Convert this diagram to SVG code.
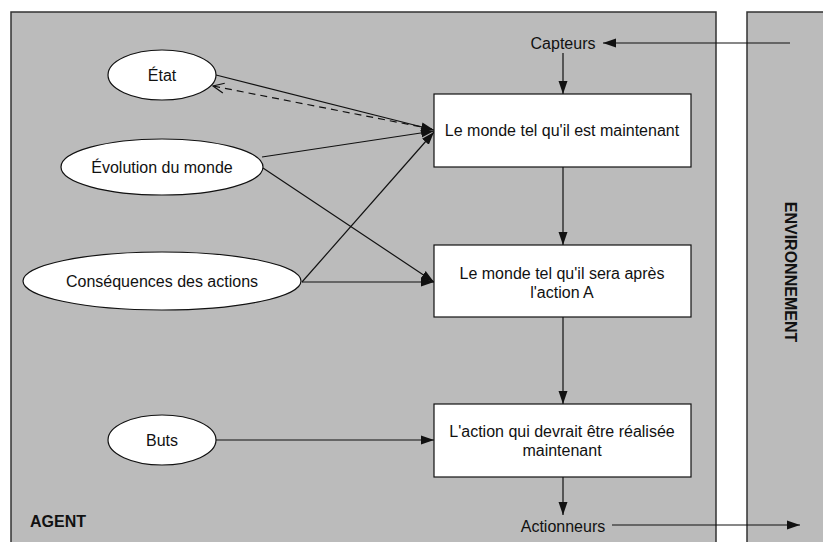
<svg xmlns="http://www.w3.org/2000/svg" width="823" height="542" viewBox="0 0 823 542">
<style>
.panel{fill:#bbbbbb;stroke:#333;stroke-width:1.5}
.node{fill:#fff;stroke:#111;stroke-width:1.2}
.t{font-family:"Liberation Sans",Arial,Helvetica,sans-serif;font-size:16px;fill:#111;text-anchor:middle}
.b{font-family:"Liberation Sans",Arial,Helvetica,sans-serif;font-size:16px;font-weight:bold;fill:#111}
.c{fill:none;stroke:#111;stroke-width:1.2}
.d{fill:none;stroke:#111;stroke-width:1.2;stroke-dasharray:7,5}
</style>
<defs>
<marker id="ah" markerUnits="userSpaceOnUse" markerWidth="14" markerHeight="10" refX="13" refY="5" orient="auto">
<path d="M0,0.5 L13,5 L0,9.5 Z" fill="#111"/>
</marker>
<marker id="oh" markerUnits="userSpaceOnUse" markerWidth="14" markerHeight="12" refX="12" refY="6" orient="auto">
<path d="M1,1 L12,6 L1,11" fill="none" stroke="#111" stroke-width="1.2"/>
</marker>
</defs>
<rect width="823" height="542" fill="#fff"/>
<g id="agent">
<rect class="panel" x="11" y="12" width="705" height="540"/>
<text class="b" x="30" y="527">AGENT</text>
</g>
<g id="environnement">
<rect class="panel" x="747" y="12" width="90" height="540"/>
<text class="b" x="785" y="272" text-anchor="middle" transform="rotate(90 785 272)">ENVIRONNEMENT</text>
</g>
<g id="connectors">
<line class="c" x1="790" y1="43" x2="603" y2="43" marker-end="url(#ah)"/>
<line class="c" x1="563" y1="53" x2="563" y2="94" marker-end="url(#ah)"/>
<line class="c" x1="216" y1="75" x2="434" y2="130" marker-end="url(#ah)"/>
<line class="d" x1="432" y1="129" x2="213" y2="86" marker-end="url(#oh)"/>
<line class="c" x1="262" y1="157" x2="434" y2="131" marker-end="url(#ah)"/>
<line class="c" x1="263" y1="168" x2="434" y2="282" marker-end="url(#ah)"/>
<line class="c" x1="302" y1="282" x2="434" y2="132" marker-end="url(#ah)"/>
<line class="c" x1="302" y1="282" x2="434" y2="282" marker-end="url(#ah)"/>
<line class="c" x1="563" y1="167" x2="563" y2="245" marker-end="url(#ah)"/>
<line class="c" x1="563" y1="317" x2="563" y2="404" marker-end="url(#ah)"/>
<line class="c" x1="216" y1="440" x2="434" y2="440" marker-end="url(#ah)"/>
<line class="c" x1="563" y1="477" x2="563" y2="515" marker-end="url(#ah)"/>
<line class="c" x1="612" y1="525" x2="800" y2="525" marker-end="url(#ah)"/>
</g>
<g id="capteurs"><text class="t" x="563" y="49">Capteurs</text></g>
<g id="actionneurs"><text class="t" x="563" y="532">Actionneurs</text></g>
<g id="etat">
<ellipse class="node" cx="162" cy="75" rx="54" ry="25"/>
<text class="t" x="162" y="81">État</text>
</g>
<g id="evolution">
<ellipse class="node" cx="162" cy="167" rx="101" ry="28"/>
<text class="t" x="162" y="173">Évolution du monde</text>
</g>
<g id="consequences">
<ellipse class="node" cx="162" cy="281" rx="139" ry="29"/>
<text class="t" x="162" y="287">Conséquences des actions</text>
</g>
<g id="buts">
<ellipse class="node" cx="162" cy="440" rx="54" ry="25"/>
<text class="t" x="162" y="446">Buts</text>
</g>
<g id="monde-maintenant">
<rect class="node" x="434" y="94" width="257" height="73"/>
<text class="t" x="562" y="136">Le monde tel qu'il est maintenant</text>
</g>
<g id="monde-apres">
<rect class="node" x="434" y="245" width="257" height="72"/>
<text class="t" x="562" y="279">Le monde tel qu'il sera après</text>
<text class="t" x="562" y="298">l'action A</text>
</g>
<g id="action">
<rect class="node" x="434" y="404" width="257" height="73"/>
<text class="t" x="562" y="437">L'action qui devrait être réalisée</text>
<text class="t" x="562" y="456">maintenant</text>
</g>
</svg>
